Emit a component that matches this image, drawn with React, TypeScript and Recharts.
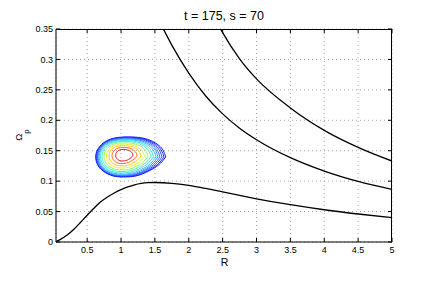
import React from 'react';
import { ComposedChart, Line, XAxis, YAxis, CartesianGrid } from 'recharts';

const FONT = '"Liberation Sans", Arial, Helvetica, sans-serif';

const xTicks = [0.5, 1, 1.5, 2, 2.5, 3, 3.5, 4, 4.5, 5];
const yTicks = [0, 0.05, 0.1, 0.15, 0.2, 0.25, 0.3, 0.35];
const xDomain: [number, number] = [0.04, 5];
const yDomain: [number, number] = [0, 0.35];

// lower black curve
const lowerR = [0.04, 0.1, 0.2, 0.3, 0.4, 0.5, 0.6, 0.7, 0.8, 0.9, 1.0, 1.1, 1.2, 1.3, 1.4, 1.5, 1.75, 2.0, 2.25, 2.5, 2.75, 3.0, 3.5, 4.0, 4.5, 5.0];
const lowerOmega = [0.0008, 0.004, 0.011, 0.0205, 0.032, 0.044, 0.0555, 0.066, 0.074, 0.0805, 0.086, 0.0905, 0.094, 0.0962, 0.0974, 0.0978, 0.0965, 0.093, 0.088, 0.0823, 0.0765, 0.071, 0.0613, 0.053, 0.046, 0.04];

// middle black curve
const middleR = [1.625, 1.75, 2.0, 2.25, 2.5, 2.75, 3.0, 3.5, 4.0, 4.5, 5.0];
const middleOmega = [0.35, 0.3236, 0.2774, 0.2399, 0.2105, 0.187, 0.1681, 0.1386, 0.1166, 0.0996, 0.0866];

// upper black curve
const upperR = [2.47, 2.5, 2.75, 3.0, 3.5, 4.0, 4.5, 5.0];
const upperOmega = [0.35, 0.344, 0.301, 0.268, 0.2203, 0.1835, 0.1555, 0.133];

// contour levels, outer -> inner: extents
const contourLeft = [0.626, 0.633, 0.642, 0.653, 0.664, 0.679, 0.697, 0.719, 0.749, 0.785, 0.822, 0.867, 0.921];
const contourRight = [1.659, 1.634, 1.605, 1.575, 1.546, 1.516, 1.479, 1.442, 1.398, 1.346, 1.295, 1.236, 1.177];
const contourTop = [0.1727, 0.172, 0.1714, 0.1706, 0.1694, 0.1681, 0.1666, 0.165, 0.163, 0.1607, 0.1583, 0.1553, 0.152];
const contourBottom = [0.1069, 0.1074, 0.1081, 0.109, 0.1102, 0.1117, 0.1135, 0.1158, 0.1184, 0.1215, 0.125, 0.1289, 0.1332];
const contourColors = ['#0000ff', '#0a1eff', '#1440ff', '#2060ff', '#3088ff', '#30b0ff', '#20e0f0', '#40f0a0', '#90f060', '#e0f020', '#ffc000', '#ff5a00', '#f00000'];

// normalized egg outline of a contour ring (u: -1 left .. 1 right, v: -1 bottom .. 1 top)
const eggU = [1.0, 0.92, 0.75, 0.5, 0.2, -0.15, -0.5, -0.78, -0.95, -1.0, -0.95, -0.78, -0.5, -0.2, 0.15, 0.5, 0.8, 1.0];
const eggV = [0.0, 0.35, 0.65, 0.87, 0.98, 1.0, 0.93, 0.7, 0.35, 0.0, -0.38, -0.72, -0.95, -1.0, -0.95, -0.72, -0.4, 0.0];

const toPoints = (xs: number[], ys: number[]) => xs.map((x, i) => ({ x, y: ys[i] }));

const curves = [toPoints(lowerR, lowerOmega), toPoints(middleR, middleOmega), toPoints(upperR, upperOmega)];

const contours = contourLeft.map((L, k) => {
  const R = contourRight[k];
  const T = contourTop[k];
  const B = contourBottom[k];
  return eggU.map((u, j) => ({
    x: L + ((u + 1) / 2) * (R - L),
    y: B + ((eggV[j] + 1) / 2) * (T - B),
  }));
});

// layout
const W = 436;
const H = 285;
const MARGIN = { top: 29, right: 44, bottom: 0, left: 0 };
const Y_AXIS_W = 56;
const X_AXIS_H = 43;
const PLOT = {
  x: MARGIN.left + Y_AXIS_W,
  y: MARGIN.top,
  w: W - MARGIN.left - Y_AXIS_W - MARGIN.right,
  h: H - MARGIN.top - MARGIN.bottom - X_AXIS_H,
};
const TICK_LEN = 4;
const xPix = (v: number) => PLOT.x + ((v - xDomain[0]) / (xDomain[1] - xDomain[0])) * PLOT.w;
const yPix = (v: number) => PLOT.y + PLOT.h - ((v - yDomain[0]) / (yDomain[1] - yDomain[0])) * PLOT.h;

const tickStyle = { fill: '#000', fontSize: 9, fontFamily: FONT };

export default function App() {
  return (
    <div style={{ position: 'absolute', left: 0, top: 0, width: W, height: H, background: '#fff' }}>
      <ComposedChart width={W} height={H} margin={MARGIN}>
        <CartesianGrid stroke="#a8a8a8" strokeDasharray="1 3" strokeWidth={1} />
        <XAxis
          dataKey="x"
          type="number"
          domain={xDomain}
          ticks={xTicks}
          interval={0}
          allowDataOverflow
          height={X_AXIS_H}
          tickSize={-TICK_LEN}
          tickMargin={9}
          stroke="#000"
          tick={tickStyle}
        />
        <YAxis
          type="number"
          domain={yDomain}
          ticks={yTicks}
          interval={0}
          allowDataOverflow
          width={Y_AXIS_W}
          tickSize={-TICK_LEN}
          tickMargin={7}
          stroke="#000"
          tick={tickStyle}
        />
        {contours.map((pts, k) => (
          <Line
            key={'c' + k}
            data={pts}
            dataKey="y"
            type="natural"
            stroke={contourColors[k]}
            strokeWidth={0.9}
            dot={false}
            activeDot={false}
            isAnimationActive={false}
          />
        ))}
        {curves.map((pts, k) => (
          <Line
            key={'b' + k}
            data={pts}
            dataKey="y"
            type="monotone"
            stroke="#000"
            strokeWidth={1.3}
            dot={false}
            activeDot={false}
            isAnimationActive={false}
          />
        ))}
      </ComposedChart>
      <svg
        width={W}
        height={H}
        style={{ position: 'absolute', left: 0, top: 0, pointerEvents: 'none' }}
      >
        <rect x={PLOT.x} y={PLOT.y} width={PLOT.w} height={1} fill="#000" />
        <rect x={PLOT.x + PLOT.w - 1} y={PLOT.y} width={1} height={PLOT.h} fill="#000" />
        {xTicks.map((t) => (
          <rect key={'tx' + t} x={xPix(t) - 0.5} y={PLOT.y} width={1} height={TICK_LEN} fill="#000" />
        ))}
        {yTicks.map((t) => (
          <rect key={'ty' + t} x={PLOT.x + PLOT.w - TICK_LEN} y={yPix(t) - 0.5} width={TICK_LEN} height={1} fill="#000" />
        ))}
        <text x={224} y={20} textAnchor="middle" fontSize={12.5} fontFamily={FONT} fill="#000">
          t = 175, s = 70
        </text>
        <text x={224.5} y={266} textAnchor="middle" fontSize={10.5} fontFamily={FONT} fill="#000">
          R
        </text>
        <text transform="translate(22,135) rotate(-90)" textAnchor="middle" fontSize={9.5} fontFamily={FONT} fill="#000">
          Ω<tspan fontSize={8} dy={7}>p</tspan>
        </text>
      </svg>
    </div>
  );
}
